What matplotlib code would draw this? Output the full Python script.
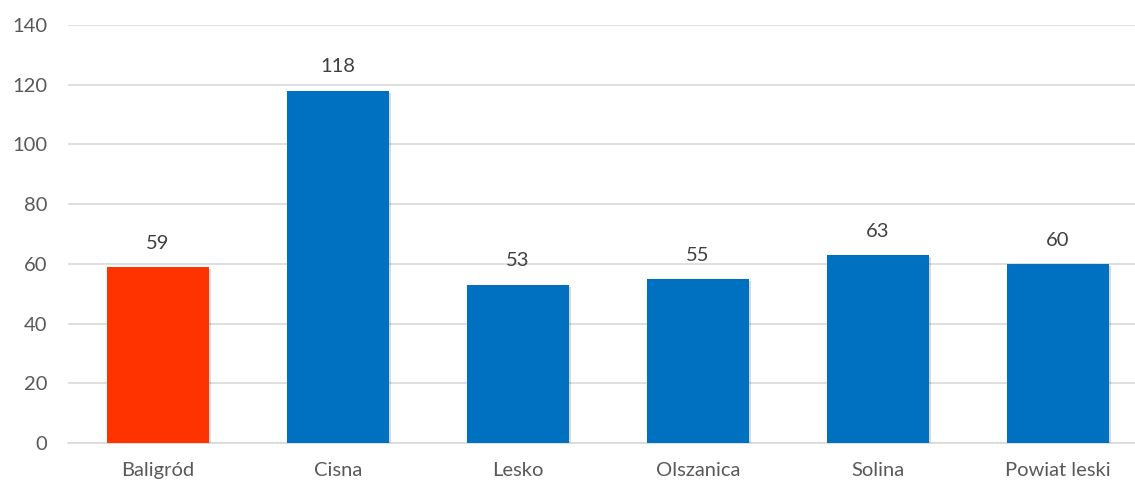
import matplotlib
matplotlib.use("Agg")
import matplotlib.pyplot as plt
import matplotlib.patheffects as pe

categories = ["Baligród", "Cisna", "Lesko", "Olszanica", "Solina", "Powiat leski"]
values = [59, 118, 53, 55, 63, 60]
colors = ["#FF3300", "#0070C0", "#0070C0", "#0070C0", "#0070C0", "#0070C0"]
yticks = [0, 20, 40, 60, 80, 100, 120, 140]

plt.rcParams['font.family'] = ['Lato', 'DejaVu Sans']

W, H = 1135, 483
fig = plt.figure(figsize=(W / 100, H / 100), dpi=100)
ax = fig.add_axes([68 / W, 40 / H, 1080 / W, 418 / H])

x = list(range(len(categories)))
bars = ax.bar(x, values, width=0.57, color=colors, zorder=3)
for b in bars:
    b.set_path_effects([pe.SimplePatchShadow(offset=(1.5, -1.5), alpha=0.15, shadow_rgbFace='#000000'), pe.Normal()])

for xi, v in zip(x, values):
    ax.annotate(str(v), (xi, v), xytext=(0, 11), textcoords="offset points",
                ha="center", va="bottom", fontsize=14.5, color="#404040")

ax.set_xlim(-0.5, len(categories) - 0.5)
ax.set_ylim(0, 140)
ax.set_yticks(yticks)
ax.set_xticks(x)
ax.set_xticklabels(categories)
ax.yaxis.grid(True, color="#D9D9D9", linewidth=1.2, zorder=0)
ax.set_axisbelow(True)
for s in ["top", "right", "left"]:
    ax.spines[s].set_visible(False)
ax.spines["bottom"].set_color("#D9D9D9")
ax.spines["bottom"].set_linewidth(1.2)
ax.tick_params(axis="both", length=0, labelsize=14.5, labelcolor="#595959")
ax.tick_params(axis="y", pad=15)
ax.tick_params(axis="x", pad=14)

fig.savefig("out.png", dpi=100)
